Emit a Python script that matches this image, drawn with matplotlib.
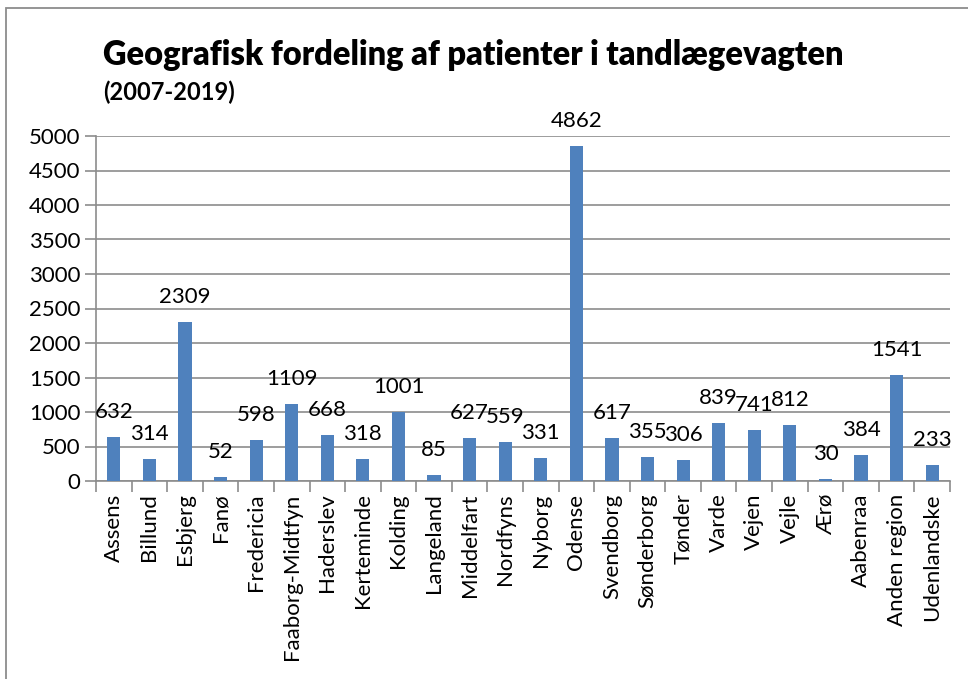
import numpy as np
import matplotlib
matplotlib.use("Agg")
import matplotlib.pyplot as plt
from matplotlib.patches import Rectangle

plt.rcParams['font.family'] = ['Lato', 'DejaVu Sans']

kommuner = ['Assens', 'Billund', 'Esbjerg', 'Fanø', 'Fredericia', 'Faaborg-Midtfyn',
            'Haderslev', 'Kerteminde', 'Kolding', 'Langeland', 'Middelfart', 'Nordfyns',
            'Nyborg', 'Odense', 'Svendborg', 'Sønderborg', 'Tønder', 'Varde', 'Vejen',
            'Vejle', 'Ærø', 'Aabenraa', 'Anden region', 'Udenlandske']
patienter = [632, 314, 2309, 52, 598, 1109, 668, 318, 1001, 85, 627, 559, 331,
             4862, 617, 355, 306, 839, 741, 812, 30, 384, 1541, 233]
yticks = [0, 500, 1000, 1500, 2000, 2500, 3000, 3500, 4000, 4500, 5000]

fig = plt.figure(figsize=(9.68, 6.79), dpi=100)
W, H = 968, 679

# outer chart border (Excel style)
fig.patches.append(Rectangle((6 / W, -0.01), 1.0, 1 - 8 / H + 0.01, transform=fig.transFigure,
                             fill=False, edgecolor='#8c8c8c', linewidth=1.3))

ax = fig.add_axes([96 / W, 1 - 481 / H, (950 - 96) / W, (481 - 136) / H])
x = np.arange(len(kommuner))
ax.bar(x, patienter, width=0.37, color='#4f81bd', zorder=3)
ax.set_xlim(-0.5, len(kommuner) - 0.5)
ax.set_ylim(0, 5000)
ax.set_yticks(yticks)
ax.set_yticklabels([str(v) for v in yticks], fontsize=16)
ax.grid(axis='y', color='#8c8c8c', linewidth=1.2, zorder=0)
for s in ['top', 'right']:
    ax.spines[s].set_visible(False)
for s in ['left', 'bottom']:
    ax.spines[s].set_color('#8c8c8c')
    ax.spines[s].set_linewidth(1.2)
ax.tick_params(axis='y', length=8, color='#8c8c8c', width=1.2, pad=3)
ax.tick_params(axis='x', length=0, pad=9)
ax.set_xticks(x)
ax.set_xticklabels(kommuner, rotation=90, fontsize=16)
ax.set_xticks(np.arange(len(kommuner) + 1) - 0.5, minor=True)
ax.tick_params(axis='x', which='minor', length=8, color='#8c8c8c', width=1.2)

# data labels above the bars
for xi, v in zip(x, patienter):
    ax.annotate(str(v), (xi, v), xytext=(0, 18), textcoords='offset points',
                ha='center', va='center', fontsize=16, zorder=4)

fig.text(103 / W, 1 - 55 / H, 'Geografisk fordeling af patienter i tandlægevagten',
         fontsize=23.5, fontweight='heavy', va='center')
fig.text(103 / W, 1 - 92 / H, '(2007-2019)', fontsize=17, fontweight='bold', va='center')

fig.savefig('out.png', dpi=100)
